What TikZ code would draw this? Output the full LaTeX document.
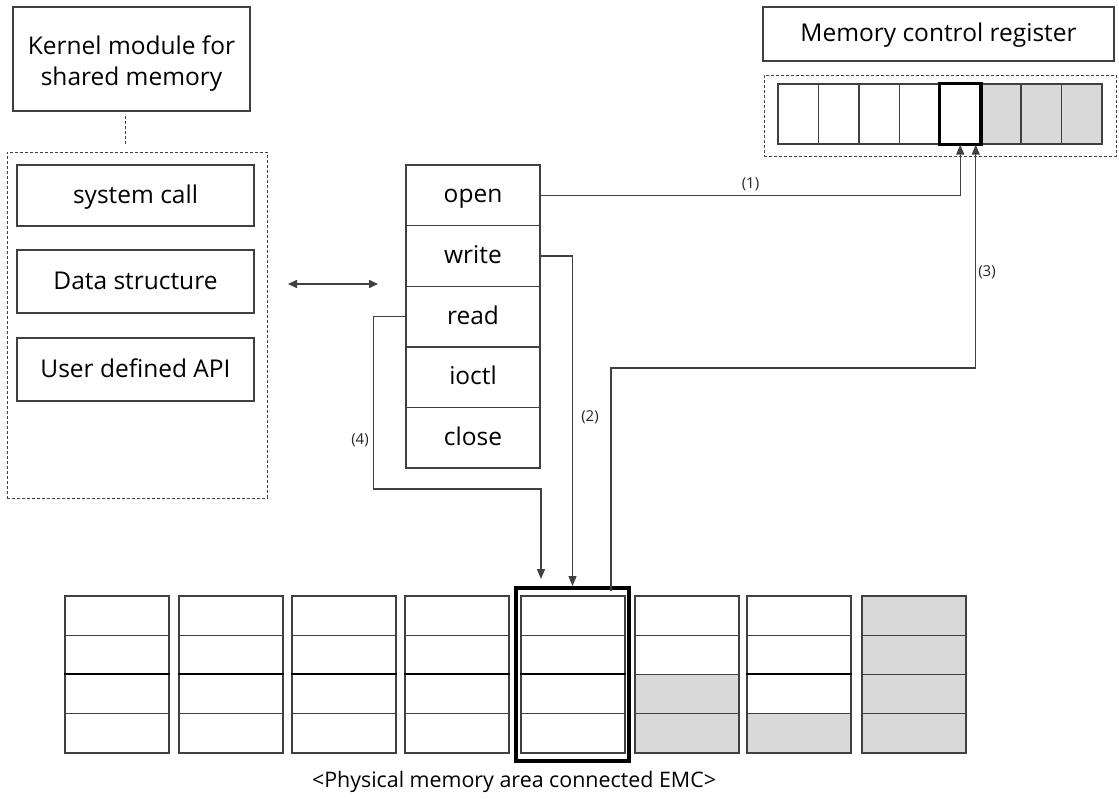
\documentclass[tikz,border=0pt]{standalone}
\usepackage{fontspec}
\setmainfont{Open Sans}
\usetikzlibrary{arrows.meta,calc}
\definecolor{cellgray}{HTML}{D9D9D9}
\definecolor{linegray}{HTML}{404040}
\begin{document}
\begin{tikzpicture}[x=1pt,y=-1pt,
  box/.style={draw=linegray,line width=1.4pt,fill=white,inner sep=0pt,rectangle,
    font=\fontsize{24.5}{31}\selectfont,text height=18pt,text depth=3pt},
  dashbox/.style={draw=linegray,line width=1pt,dash pattern=on 3pt off 2pt,inner sep=0pt,rectangle},
  cell/.style={draw=linegray,line width=1.3pt,inner sep=0pt,rectangle,minimum width=104pt,minimum height=39.25pt},
  rcell/.style={draw=linegray,line width=1.3pt,inner sep=0pt,rectangle,minimum width=40.5pt,minimum height=60pt},
  conn/.style={draw=linegray,line width=1.4pt,-{Triangle[length=10pt,width=8pt]}},
  lbl/.style={font=\fontsize{15}{17}\selectfont,text=black!85,inner sep=1pt}]
\useasboundingbox (0,0) rectangle (1119,798);
\fill[white] (0,0) rectangle (1119,798);

% Kernel module side
\node[draw=linegray,line width=1.4pt,fill=white,inner sep=0pt,font=\fontsize{24.5}{31}\selectfont,
  minimum width=237pt,minimum height=104pt] (kernel) at (131.5,59)
  {\parbox{230pt}{\centering\vspace*{9pt}Kernel module for\\shared memory}};
\node[dashbox,minimum width=260pt,minimum height=346pt] (kcont) at (137,325) {};
\draw[draw=linegray,line width=1pt,dash pattern=on 3pt off 2pt]
  ($(kernel.south)+(-6,4)$) -- ($(kernel.south |- kcont.north)+(-6,-7)$);
\node[box,minimum width=237pt,minimum height=61pt] (sys) at (135.5,195.5) {system call};
\node[box,minimum width=237pt,minimum height=63pt] (data) at (135.5,281.5) {Data structure};
\node[box,minimum width=237pt,minimum height=63pt] (api) at (135.5,369.5) {User defined API};

% double arrow
\coordinate (dl) at (288,284);
\coordinate (dr) at (378,284);
\draw[draw=linegray,line width=1.6pt,{Triangle[length=9pt,width=8pt]}-{Triangle[length=9pt,width=8pt]}] (dl) -- (dr);

% function table
\foreach \name/\txt [count=\i from 0] in {open/open,write/write,read/read,ioctl/ioctl,close/close}{
  \node[box,minimum width=134pt,minimum height=60.6pt] (\name) at (473,{195.3+60.6*\i}) {\txt};
}

% Memory control register
\node[box,minimum width=351pt,minimum height=54pt] (regtitle) at (938.5,34) {Memory control register};
\node[dashbox,minimum width=352pt,minimum height=81pt] (regcont) at (940,115.5) {};
\foreach \i in {0,...,7}{
  \pgfmathsetmacro{\cx}{778+20.25+40.5*\i}
  \ifnum\i>4
    \node[rcell,fill=cellgray] (reg\i) at (\cx,114) {};
  \else
    \node[rcell,fill=white] (reg\i) at (\cx,114) {};
  \fi
}
\draw[black,line width=3.5pt] (reg4.north west) rectangle (reg4.south east);

% Physical memory
\foreach \x [count=\c] in {65,179,292,405,521,635,747,862}{
  \foreach \r in {1,...,4}{
    \pgfmathsetmacro{\cy}{596+19.625+39.25*(\r-1)}
    \pgfmathtruncatemacro{\g}{(\c==8) || (\c==6 && \r>2) || (\c==7 && \r==4) ? 1 : 0}
    \ifnum\g=1
      \node[cell,fill=cellgray] (mem-\c-\r) at ({\x+52},\cy) {};
    \else
      \node[cell,fill=white] (mem-\c-\r) at ({\x+52},\cy) {};
    \fi
  }
}
\foreach \c in {1,2,3,4,5,7}{
  \draw[black,line width=2.6pt] (mem-\c-3.north west) -- (mem-\c-3.north east);
}
\node[draw=black,line width=4pt,inner sep=0pt,minimum width=113pt,minimum height=173pt] (memsel) at (572.5,674.5) {};

\node[font=\fontsize{21.4}{24}\selectfont,inner sep=0pt,text height=15pt,text depth=3pt] (caption) at (514,781) {<Physical memory area connected EMC>};

% connectors
\draw[conn] (open.east) -| (reg4.south) node[pos=0.25,above=3pt,lbl] {(1)};
\draw[conn] (write.east) -| (memsel.north);
\node[lbl] (l2) at (590,417) {(2)};
\draw[conn] ($(memsel.north)+(38.5,5)$) -- ++(0,-223) -| ($(reg4.south)+(15.5,0)$);
\node[lbl] (l3) at (987,272) {(3)};
\draw[conn] (read.west) -- ++(-32,0) |- ($(memsel.north)+(-31.5,-97)$) -- ($(memsel.north)+(-31.5,-7)$);
\node[lbl] (l4) at (360,440) {(4)};
\end{tikzpicture}
\end{document}
